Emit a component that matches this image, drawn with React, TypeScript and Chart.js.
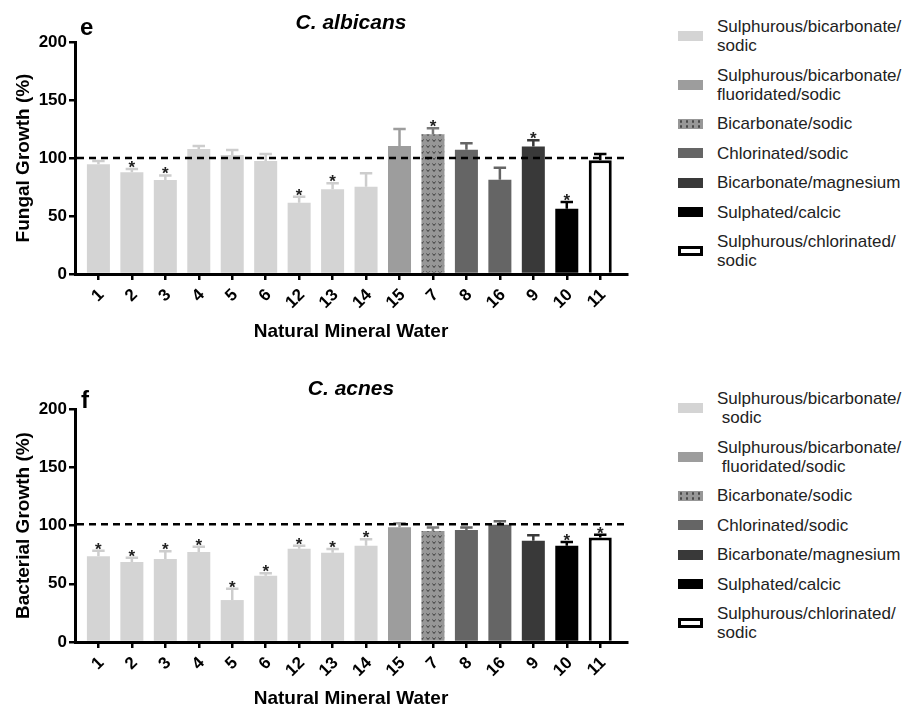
import React, { useEffect, useRef } from 'react';
import { Chart, registerables } from 'chart.js';

Chart.register(...registerables);

// ---------- data ----------
const categories = ['1', '2', '3', '4', '5', '6', '12', '13', '14', '15', '7', '8', '16', '9', '10', '11'];
const groupIndex = [0, 0, 0, 0, 0, 0, 0, 0, 0, 1, 2, 3, 3, 4, 5, 6];

const fungalMeans = [94.6, 87.7, 81, 107.8, 102.6, 97.4, 61.5, 73, 75.3, 110.3, 120.4, 107.2, 81.3, 110, 56.3, 98];
const fungalErrors = [2.8, 2.8, 4, 2.5, 4.4, 6, 5.2, 5.2, 11.5, 14.7, 5.2, 5.5, 10.3, 5.2, 5.7, 5.4];
const fungalStars = [false, true, true, false, false, false, true, true, false, false, true, false, false, true, true, false];

const bacterialMeans = [73.6, 68.7, 71.2, 77.3, 36, 56.9, 80.1, 76.7, 82.7, 98.4, 95.3, 96.1, 100.7, 87, 82.7, 89.6];
const bacterialErrors = [4.8, 3.7, 6.6, 4.5, 9.8, 2.1, 2.6, 3.1, 5.5, 3.6, 2.9, 2.1, 2.9, 4.6, 3.1, 2.5];
const bacterialStars = [true, true, true, true, true, true, true, true, true, false, false, false, false, false, true, true];

const fungalReference = 100;
const bacterialReference = 101;

const yMin = 0;
const yMax = 200;
const yStep = 50;

const groupNamesTop = [
  'Sulphurous/bicarbonate/\nsodic',
  'Sulphurous/bicarbonate/\nfluoridated/sodic',
  'Bicarbonate/sodic',
  'Chlorinated/sodic',
  'Bicarbonate/magnesium',
  'Sulphated/calcic',
  'Sulphurous/chlorinated/\nsodic',
];
const groupNamesBottom = [
  'Sulphurous/bicarbonate/\n sodic',
  'Sulphurous/bicarbonate/\n fluoridated/sodic',
  'Bicarbonate/sodic',
  'Chlorinated/sodic',
  'Bicarbonate/magnesium',
  'Sulphated/calcic',
  'Sulphurous/chlorinated/\nsodic',
];

// ---------- styles ----------
const groupFill = ['#d4d4d4', '#9d9d9d', '#979797', '#656565', '#393939', '#000000', '#ffffff'];
const groupErrorColor = ['#cdcdcd', '#9d9d9d', '#7a7a7a', '#656565', '#393939', '#000000', '#000000'];
const FONT = "'Liberation Sans', Arial, Helvetica, sans-serif";

function makePattern(): CanvasPattern | string {
  const c = document.createElement('canvas');
  c.width = 6;
  c.height = 6;
  const g = c.getContext('2d');
  if (!g) return groupFill[2];
  g.fillStyle = groupFill[2];
  g.fillRect(0, 0, 6, 6);
  g.strokeStyle = '#3a3a3a';
  g.lineWidth = 1;
  g.beginPath();
  g.moveTo(0.5, 1.5);
  g.lineTo(2, 3.5);
  g.lineTo(3.5, 1.5);
  g.stroke();
  return g.createPattern(c, 'repeat') || groupFill[2];
}

function overlayPlugin(errors: number[], stars: boolean[], refValue: number) {
  return {
    id: 'overlay',
    afterDatasetsDraw(chart: any) {
      const ctx = chart.ctx as CanvasRenderingContext2D;
      const meta = chart.getDatasetMeta(0);
      const yScale = chart.scales.y;
      const data = chart.data.datasets[0].data as { x: number; y: number }[];
      ctx.save();
      meta.data.forEach((el: any, i: number) => {
        const top = yScale.getPixelForValue(data[i].y + errors[i]);
        const half = el.width * 0.27;
        ctx.strokeStyle = groupErrorColor[groupIndex[i]];
        ctx.lineWidth = 2.5;
        ctx.beginPath();
        ctx.moveTo(el.x, el.y);
        ctx.lineTo(el.x, top);
        ctx.moveTo(el.x - half, top);
        ctx.lineTo(el.x + half, top);
        ctx.stroke();
        if (stars[i]) {
          ctx.fillStyle = '#222';
          ctx.font = `bold 17px ${FONT}`;
          ctx.textAlign = 'center';
          ctx.textBaseline = 'alphabetic';
          ctx.fillText('*', el.x, top + 4);
        }
      });
      const ry = yScale.getPixelForValue(refValue);
      ctx.setLineDash([7, 5]);
      ctx.lineWidth = 2.5;
      ctx.strokeStyle = '#000';
      ctx.beginPath();
      ctx.moveTo(chart.chartArea.left + 2, ry);
      ctx.lineTo(chart.chartArea.right, ry);
      ctx.stroke();
      ctx.restore();
    },
  };
}

type PanelProps = {
  means: number[];
  errors: number[];
  stars: boolean[];
  refValue: number;
  yTitle: string;
  top: number;
  padTop: number;
  xHeight: number;
  titlePadBottom: number;
};

function BarPanel(p: PanelProps) {
  const ref = useRef<HTMLCanvasElement>(null);
  useEffect(() => {
    if (!ref.current) return;
    const pattern = makePattern();
    const fills = groupIndex.map((g) => (g === 2 ? pattern : groupFill[g]));
    const tickFont = { family: FONT, size: 17, weight: 'bold' as const };
    const titleFont = { family: FONT, size: 19, weight: 'bold' as const };
    const chart = new Chart(ref.current, {
      type: 'bar',
      data: {
        datasets: [
          {
            data: p.means.map((v, i) => ({ x: i, y: v })) as any,
            backgroundColor: fills as any,
            borderColor: '#000',
            borderWidth: groupIndex.map((g) => (g === 6 ? 3 : 0)),
            barPercentage: 0.86,
            categoryPercentage: 0.8,
          },
        ],
      },
      options: {
        responsive: false,
        animation: false,
        layout: { padding: { top: p.padTop, right: 13, left: 0, bottom: 0 } },
        plugins: {
          legend: { display: false },
          tooltip: { enabled: false },
          title: { display: false },
        },
        scales: {
          x: {
            type: 'linear',
            offset: false,
            min: -0.7,
            max: 15.8,
            afterBuildTicks: (s: any) => {
              s.ticks = categories.map((_, i) => ({ value: i }));
            },
            afterFit: (s: any) => {
              s.height = p.xHeight;
            },
            grid: { offset: false, drawOnChartArea: false, drawTicks: true, tickLength: 6, color: '#000', lineWidth: 2.5 },
            border: { display: true, color: '#000', width: 3 },
            ticks: {
              autoSkip: false,
              minRotation: 45,
              maxRotation: 45,
              callback: (v: any) => categories[v as number] ?? '',
              font: tickFont,
              color: '#000',
              padding: 5,
              labelOffset: 3,
            },
            title: {
              display: true,
              text: 'Natural Mineral Water',
              font: titleFont,
              color: '#000',
              padding: { top: 0, bottom: p.titlePadBottom },
            },
          },
          y: {
            min: yMin,
            max: yMax,
            afterFit: (s: any) => {
              s.width = 75;
            },
            grid: { drawOnChartArea: false, drawTicks: true, tickLength: 6, color: '#000', lineWidth: 2.5 },
            border: { display: true, color: '#000', width: 3 },
            ticks: { stepSize: yStep, font: tickFont, color: '#000', padding: 2 },
            title: {
              display: true,
              text: p.yTitle,
              font: titleFont,
              color: '#000',
              padding: { top: 12, bottom: 0 },
            },
          },
        },
      } as any,
      plugins: [overlayPlugin(p.errors, p.stars, p.refValue)],
    });
    return () => chart.destroy();
  }, []);
  return (
    <canvas
      ref={ref}
      width={640}
      height={350}
      style={{ position: 'absolute', left: 0, top: p.top, width: 640, height: 350 }}
    />
  );
}

function Legend({ names, top }: { names: string[]; top: number }) {
  return (
    <div
      style={{
        position: 'absolute',
        left: 678,
        top,
        display: 'flex',
        flexDirection: 'column',
        gap: 10.5,
        fontFamily: FONT,
        fontSize: 17,
        lineHeight: '19px',
        color: '#222',
      }}
    >
      {names.map((n, i) => (
        <div key={i} style={{ display: 'flex', alignItems: 'center' }}>
          <div
            style={{
              width: 25,
              height: 10,
              boxSizing: 'border-box',
              marginRight: 14,
              flex: 'none',
              background:
                i === 2
                  ? 'radial-gradient(circle, #4a4a4a 0 1px, transparent 1.5px) 0 0 / 6px 5px, #979797'
                  : groupFill[i],
              border: i === 6 ? '3px solid #000' : 'none',
            }}
          />
          <div style={{ whiteSpace: 'pre' }}>{n}</div>
        </div>
      ))}
    </div>
  );
}

export default function App() {
  return (
    <div
      style={{
        position: 'absolute',
        left: 0,
        top: 0,
        width: 913,
        height: 711,
        overflow: 'hidden',
        background: '#fff',
      }}
    >
      <BarPanel
        means={fungalMeans}
        errors={fungalErrors}
        stars={fungalStars}
        refValue={fungalReference}
        yTitle="Fungal Growth (%)"
        top={0}
        padTop={42}
        xHeight={76}
        titlePadBottom={6.6}
      />
      <BarPanel
        means={bacterialMeans}
        errors={bacterialErrors}
        stars={bacterialStars}
        refValue={bacterialReference}
        yTitle="Bacterial Growth (%)"
        top={360}
        padTop={49}
        xHeight={68}
        titlePadBottom={0}
      />
      <div style={{ position: 'absolute', left: 80, top: 15, font: `bold 24px/1 ${FONT}`, color: '#000' }}>e</div>
      <div
        style={{
          position: 'absolute',
          left: 75,
          width: 552,
          top: 10.5,
          textAlign: 'center',
          font: `italic bold 21px/1 ${FONT}`,
          color: '#000',
        }}
      >
        C. albicans
      </div>
      <div style={{ position: 'absolute', left: 81, top: 388, font: `bold 24px/1 ${FONT}`, color: '#000' }}>f</div>
      <div
        style={{
          position: 'absolute',
          left: 75,
          width: 552,
          top: 377,
          textAlign: 'center',
          font: `italic bold 21px/1 ${FONT}`,
          color: '#000',
        }}
      >
        C. acnes
      </div>
      <Legend names={groupNamesTop} top={17} />
      <Legend names={groupNamesBottom} top={389} />
    </div>
  );
}
